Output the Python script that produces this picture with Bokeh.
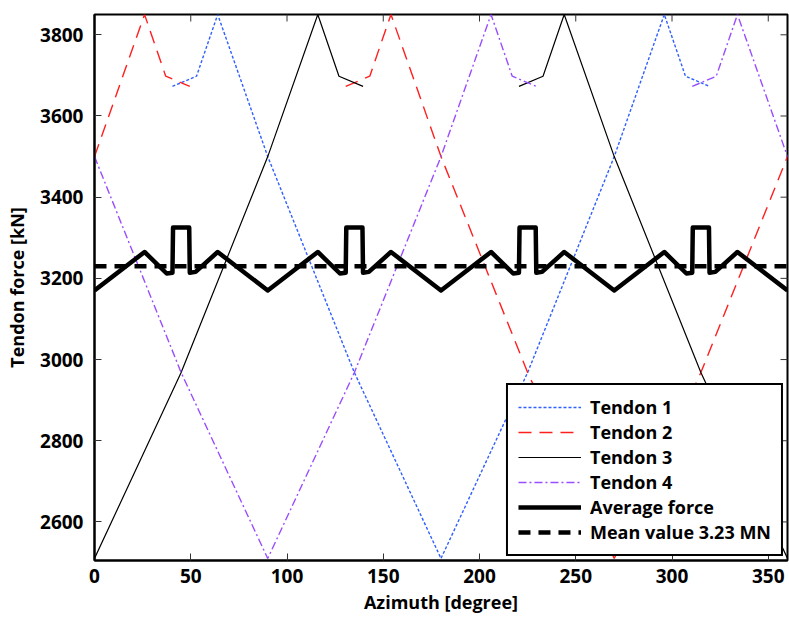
import math
from bokeh.plotting import figure
from bokeh.models import Range1d, FixedTicker, Legend, LegendItem
from bokeh.embed import file_html
from bokeh.resources import INLINE

nan = float("nan")

# ---- data ----
azimuth_t1 = [40.5, 53, 64, 90, 135, 180, 225, 270, 296, 307, 319.5]
force_t1 = [3673, 3698, 3850, 3500, 2968, 2510, 2968, 3500, 3850, 3698, 3673]

azimuth_t2 = [0, 26, 37, 49.5, nan, 130.5, 143, 154, 180, 225, 270, 315, 360]
force_t2 = [3500, 3850, 3698, 3673, nan, 3673, 3698, 3850, 3500, 2968, 2510, 2968, 3500]

azimuth_t3 = [0, 45, 90, 116, 127, 139.5, nan, 220.5, 233, 244, 270, 315, 360]
force_t3 = [2510, 2968, 3500, 3850, 3698, 3673, nan, 3673, 3698, 3850, 3500, 2968, 2510]

azimuth_t4 = [0, 45, 90, 135, 180, 206, 217, 229.5, nan, 310.5, 323, 334, 360]
force_t4 = [3500, 2968, 2510, 2968, 3500, 3850, 3698, 3673, nan, 3673, 3698, 3850, 3500]

azimuth_avg = [0, 26, 37.5, 40.5, 40.8, 49.2, 49.5, 52.5, 64,
               90, 116, 127.5, 130.5, 130.8, 139.2, 139.5, 142.5, 154,
               180, 206, 217.5, 220.5, 220.8, 229.2, 229.5, 232.5, 244,
               270, 296, 307.5, 310.5, 310.8, 319.2, 319.5, 322.5, 334,
               360]
force_avg = [3170, 3265, 3212, 3214, 3325, 3325, 3214, 3216, 3265,
             3170, 3265, 3212, 3214, 3325, 3325, 3214, 3216, 3265,
             3170, 3265, 3212, 3214, 3325, 3325, 3214, 3216, 3265,
             3170, 3265, 3212, 3214, 3325, 3325, 3214, 3216, 3265,
             3170]

azimuth_mean = [0, 360]
force_mean = [3230, 3230]

x_ticks = [0, 50, 100, 150, 200, 250, 300, 350]
y_ticks = [2600, 2800, 3000, 3200, 3400, 3600, 3800]

X_MIN, X_MAX = 0, 360
Y_MIN, Y_MAX = 2505, 3850

FONT = "Open Sans"

p = figure(width=789, height=617, output_backend="svg", toolbar_location=None,
           x_range=Range1d(X_MIN, X_MAX), y_range=Range1d(Y_MIN, Y_MAX),
           min_border_left=94, min_border_right=2, min_border_top=14,
           min_border_bottom=57)
p.xgrid.visible = False
p.ygrid.visible = False
p.outline_line_color = "black"
p.outline_line_width = 2
p.outline_line_alpha = 1

p.xaxis.ticker = FixedTicker(ticks=x_ticks)
p.yaxis.ticker = FixedTicker(ticks=y_ticks)
p.xaxis.axis_label = "Azimuth [degree]"
p.yaxis.axis_label = "Tendon force [kN]"

for ax in [p.xaxis[0], p.yaxis[0]]:
    ax.axis_line_width = 2
    ax.axis_line_color = "black"
    ax.major_tick_in = 7
    ax.major_tick_out = 0
    ax.major_tick_line_width = 1
    ax.major_tick_line_color = "#333333"
    ax.minor_tick_line_color = None
    ax.major_label_text_font = FONT
    ax.major_label_text_font_style = "bold"
    ax.major_label_text_font_size = "19px"
    ax.major_label_text_color = "black"
    ax.axis_label_text_font = FONT
    ax.axis_label_text_font_style = "bold"
    ax.axis_label_text_font_size = "18px"
    ax.axis_label_text_color = "black"
p.xaxis.major_label_standoff = 8
p.yaxis.major_label_standoff = 11
p.xaxis.axis_label_standoff = 4
p.yaxis.axis_label_standoff = 8

# ticks on the top and right edges of the box (half of each marker is clipped by the frame)
p.scatter(x_ticks, [Y_MAX] * len(x_ticks), marker="dash", angle=math.pi / 2, size=14,
          line_color="#333333", line_width=1)
p.scatter([X_MAX] * len(y_ticks), y_ticks, marker="dash", size=14,
          line_color="#333333", line_width=1)

r1 = p.line(azimuth_t1, force_t1, line_color="#2f5fff", line_width=1.4, line_dash="3 2")
r2 = p.line(azimuth_t2, force_t2, line_color="#ff1f1f", line_width=1.4, line_dash="13 8")
r3 = p.line(azimuth_t3, force_t3, line_color="black", line_width=1.2)
r4 = p.line(azimuth_t4, force_t4, line_color="#9a4dff", line_width=1.4, line_dash="8 3 2 3")
r5 = p.line(azimuth_avg, force_avg, line_color="black", line_width=4.5, line_join="round")
r6 = p.line(azimuth_mean, force_mean, line_color="black", line_width=4.5, line_dash="12 8")

legend = Legend(items=[
    LegendItem(label="Tendon 1", renderers=[r1]),
    LegendItem(label="Tendon 2", renderers=[r2]),
    LegendItem(label="Tendon 3", renderers=[r3]),
    LegendItem(label="Tendon 4", renderers=[r4]),
    LegendItem(label="Average force", renderers=[r5]),
    LegendItem(label="Mean value 3.23 MN", renderers=[r6]),
], location="bottom_right")
legend.margin = 4
legend.padding = 10
legend.spacing = 1
legend.glyph_width = 63
legend.glyph_height = 22
legend.label_height = 22
legend.label_standoff = 9
legend.label_text_font = FONT
legend.label_text_font_style = "bold"
legend.label_text_font_size = "18px"
legend.label_text_color = "black"
legend.border_line_color = "black"
legend.border_line_width = 2
legend.border_line_alpha = 1
legend.background_fill_color = "white"
legend.background_fill_alpha = 1
p.add_layout(legend)

open("out.html", "w").write(file_html(p, INLINE))
